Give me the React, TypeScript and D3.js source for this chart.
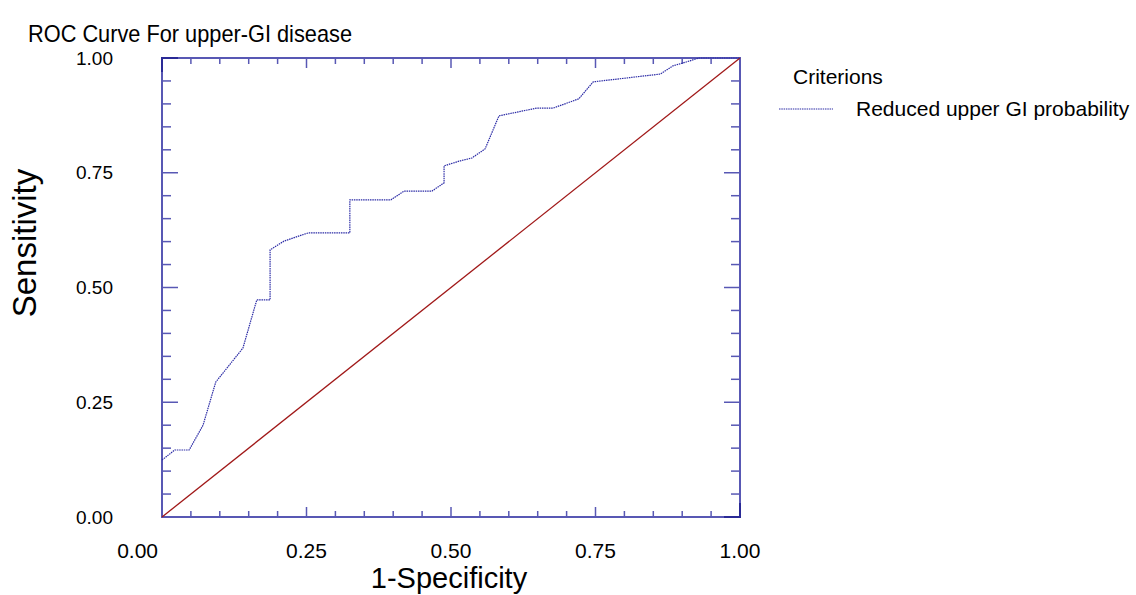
import { useEffect, useRef } from 'react'
import * as d3 from 'd3'

const fpr = [0, 0.022, 0.047, 0.071, 0.093, 0.14, 0.164, 0.187, 0.187, 0.211, 0.253, 0.325, 0.325, 0.396, 0.419, 0.467, 0.488, 0.488, 0.516, 0.536, 0.559, 0.583, 0.649, 0.677, 0.721, 0.746, 0.862, 0.884, 0.901, 0.929, 1.0]
const tpr = [0.124, 0.146, 0.146, 0.2, 0.294, 0.368, 0.473, 0.473, 0.582, 0.601, 0.619, 0.619, 0.691, 0.691, 0.71, 0.71, 0.728, 0.765, 0.776, 0.782, 0.802, 0.874, 0.891, 0.891, 0.911, 0.948, 0.965, 0.983, 0.989, 1.0, 1.0]
const majorTicks = [0, 0.25, 0.5, 0.75, 1]
const tickLabels = ['0.00', '0.25', '0.50', '0.75', '1.00']
const seriesName = 'Reduced upper GI probability'

const W = 1136
const H = 595
const FONT = 'Liberation Sans, Arial, sans-serif'
const AXIS = '#5858b4'

export default function App() {
  const svgRef = useRef<SVGSVGElement>(null)

  useEffect(() => {
    if (!svgRef.current) return
    const svg = d3.select(svgRef.current)
    svg.selectAll('*').remove()

    const x = d3.scaleLinear().domain([0, 1]).range([162, 740])
    const y = d3.scaleLinear().domain([0, 1]).range([517, 58])

    svg.append('rect').attr('width', W).attr('height', H).attr('fill', '#fff')

    // title
    svg.append('text')
      .attr('x', 28).attr('y', 42)
      .style('font-family', FONT).style('font-size', '24px')
      .attr('textLength', 324).attr('lengthAdjust', 'spacingAndGlyphs')
      .text('ROC Curve For upper-GI disease')

    const g = svg.append('g')

    // minor + major ticks on all four sides, pointing inward
    const minor = d3.range(0, 21).map(i => i / 20)
    minor.forEach(v => {
      const isMajor = majorTicks.some(m => Math.abs(m - v) < 1e-9)
      const lx = isMajor ? 10 : 6
      const ly = isMajor ? 16 : 9
      g.append('line').attr('x1', x(v)).attr('x2', x(v)).attr('y1', y(0)).attr('y2', y(0) - lx)
        .attr('stroke', AXIS).attr('stroke-width', 1.5)
      g.append('line').attr('x1', x(v)).attr('x2', x(v)).attr('y1', y(1)).attr('y2', y(1) + lx)
        .attr('stroke', AXIS).attr('stroke-width', 1.5)
      g.append('line').attr('y1', y(v)).attr('y2', y(v)).attr('x1', x(0)).attr('x2', x(0) + ly)
        .attr('stroke', AXIS).attr('stroke-width', 1.5)
      g.append('line').attr('y1', y(v)).attr('y2', y(v)).attr('x1', x(1)).attr('x2', x(1) - ly)
        .attr('stroke', AXIS).attr('stroke-width', 1.5)
    })

    g.append('rect')
      .attr('x', x(0)).attr('y', y(1))
      .attr('width', x(1) - x(0)).attr('height', y(0) - y(1))
      .attr('fill', 'none').attr('stroke', AXIS).attr('stroke-width', 2)

    // darker corner segments
    g.append('path')
      .attr('d', `M${x(0)},${y(1) + 14}V${y(1)}H${x(0) + 16}`)
      .attr('fill', 'none').attr('stroke', '#2a2a96').attr('stroke-width', 2)
    g.append('path')
      .attr('d', `M${x(1)},${y(0) - 14}V${y(0)}H${x(1) - 16}`)
      .attr('fill', 'none').attr('stroke', '#2a2a96').attr('stroke-width', 2)

    // tick labels
    majorTicks.forEach((v, i) => {
      svg.append('text')
        .attr('x', 113).attr('y', y(v)).attr('dy', '0.35em')
        .attr('text-anchor', 'end')
        .style('font-family', FONT).style('font-size', '19px')
        .text(tickLabels[i])
      svg.append('text')
        .attr('x', i === 0 ? x(v) - 4 : x(v)).attr('y', 558)
        .attr('text-anchor', i === 0 ? 'end' : 'middle')
        .style('font-family', FONT).style('font-size', '21px')
        .text(tickLabels[i])
    })

    // axis titles
    svg.append('text')
      .attr('x', 449).attr('y', 588).attr('text-anchor', 'middle')
      .style('font-family', FONT).style('font-size', '29px')
      .text('1-Specificity')
    svg.append('text')
      .attr('transform', `translate(36, 243) rotate(-90)`).attr('text-anchor', 'middle')
      .style('font-family', FONT).style('font-size', '33px')
      .text('Sensitivity')

    // reference diagonal
    g.append('line')
      .attr('x1', x(0)).attr('y1', y(0)).attr('x2', x(1)).attr('y2', y(1))
      .attr('stroke', '#a01818').attr('stroke-width', 1.3)

    // ROC curve
    const line = d3.line<number>()
      .x((_, i) => x(fpr[i]))
      .y(d => y(d))
    g.append('path')
      .datum(tpr)
      .attr('d', line)
      .attr('fill', 'none')
      .attr('stroke', '#2c2ca6')
      .attr('stroke-width', 1.2)
      .attr('stroke-dasharray', '1.5 0.8')

    // legend
    svg.append('text')
      .attr('x', 793).attr('y', 84)
      .style('font-family', FONT).style('font-size', '21px')
      .text('Criterions')
    svg.append('line')
      .attr('x1', 779).attr('x2', 833).attr('y1', 109).attr('y2', 109)
      .attr('stroke', '#2c2ca6').attr('stroke-width', 1.2)
      .attr('stroke-dasharray', '1.5 0.8')
    svg.append('text')
      .attr('x', 856).attr('y', 116)
      .style('font-family', FONT).style('font-size', '21px')
      .text(seriesName)
  }, [])

  return (
    <svg
      ref={svgRef}
      width={W}
      height={H}
      style={{ position: 'absolute', left: 0, top: 0 }}
    />
  )
}
